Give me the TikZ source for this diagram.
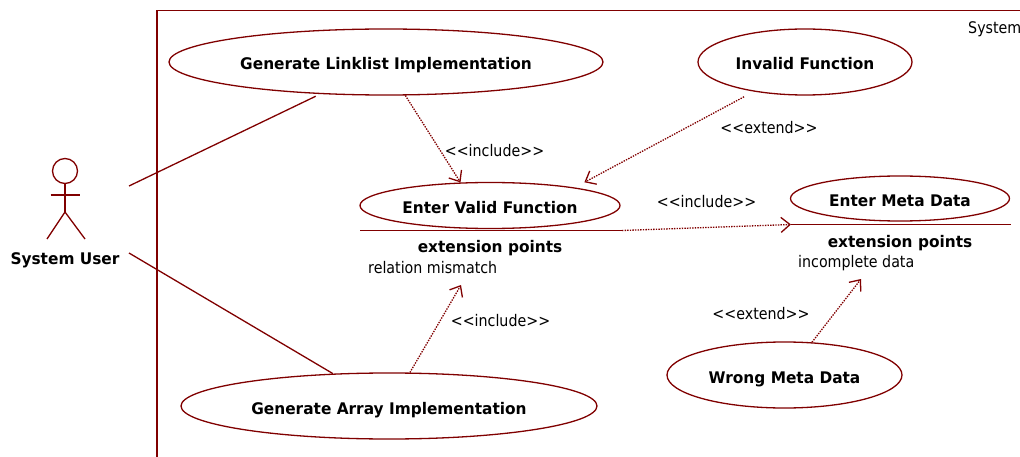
\documentclass[tikz,border=0pt]{standalone}
\usepackage{fontspec}
\setmainfont[FakeStretch=0.89,BoldFeatures={FakeStretch=0.96}]{DejaVu Sans}
\usepackage{tikz}
\usetikzlibrary{positioning,arrows.meta,shapes.geometric}
\definecolor{umlred}{RGB}{128,0,0}
\tikzstyle{usecase}=[draw=umlred, ellipse, line width=1.3pt, inner sep=0pt, text height=16pt, text depth=0pt, font=\fontsize{16pt}{18pt}\selectfont\bfseries]
\tikzstyle{label}=[inner sep=0pt, font=\fontsize{16pt}{18pt}\selectfont]
\tikzstyle{heading}=[inner sep=0pt, font=\fontsize{16pt}{18pt}\selectfont\bfseries]
\tikzstyle{assoc}=[draw=umlred, line width=1.3pt]
\tikzstyle{depend}=[draw=umlred, line width=1.3pt, dash pattern=on 1.4pt off 1.2pt, -{Straight Barb[length=9pt,width=15pt,line width=1.3pt]}]

\begin{document}
\begin{tikzpicture}[x=1pt,y=1pt,node distance=100pt]
	\useasboundingbox (0,0) rectangle (1020,-457);
	% system frame
	\coordinate (frameBottom) at (157,-460);
	\coordinate (frameCorner) at (157,-10.5);
	\coordinate (frameRight) at (1025,-10.5);
	\draw[assoc] (frameBottom) -- (frameCorner) -- (frameRight);
	\node[label, anchor=west] (system) at (968,-29) {System};
	% actor
	\node[draw=umlred, circle, line width=1.3pt, inner sep=0pt, minimum size=25pt] (head) at (65,-171) {};
	\coordinate[below of=head, node distance=41pt] (hip);
	\coordinate[below of=head, node distance=24pt] (armMid);
	\coordinate[left of=armMid, node distance=14.5pt] (armLeft);
	\coordinate[right of=armMid, node distance=14.5pt] (armRight);
	\coordinate (legLeft) at (47,-239);
	\coordinate (legRight) at (85,-239);
	\draw[assoc] (head) ++(0,-12.5) -- (hip);
	\draw[assoc] (armLeft) -- (armRight);
	\draw[assoc] (legLeft) -- (hip) -- (legRight);
	\node[heading, below of=head, node distance=89pt] (user) {System User};
	\coordinate (userTop) at (129,-186);
	\coordinate (userBottom) at (129,-253);
	% use cases
	\node[usecase, minimum width=434pt, minimum height=66pt] (linklist) at (386,-62) {Generate Linklist Implementation};
	\node[usecase, right of=linklist, node distance=419pt, minimum width=214pt, minimum height=66pt] (invalid) {Invalid Function};
	\node[usecase, minimum width=260pt, minimum height=46pt] (valid) at (490,-205.5) {Enter Valid Function};
	\node[heading, below of=valid, node distance=43pt] (validExt) {extension points};
	\node[label, anchor=west] (mismatch) at (368,-267.5) {relation mismatch};
	\node[usecase, right of=valid, node distance=410pt, yshift=7pt, minimum width=219pt, minimum height=45pt] (meta) {Enter Meta Data};
	\node[heading, below of=meta, node distance=44.5pt] (metaExt) {extension points};
	\node[label, anchor=west] (incomplete) at (798,-263) {incomplete data};
	\node[usecase, minimum width=235pt, minimum height=66pt] (wrong) at (784.5,-375) {Wrong Meta Data};
	\node[usecase, minimum width=416pt, minimum height=66pt] (array) at (389,-406) {Generate Array Implementation};
	% compartment lines
	\coordinate (validLineLeft) at (360,-230.5);
	\coordinate (validLineRight) at (622,-230.5);
	\coordinate (metaLineLeft) at (791,-224.5);
	\coordinate (metaLineRight) at (1011,-224.5);
	\draw[assoc] (validLineLeft) -- (validLineRight);
	\draw[assoc] (metaLineLeft) -- (metaLineRight);
	\coordinate (validIn) at (461,-285);
	\coordinate (metaIn) at (861,-279);
	% relations
	\path (userTop) edge[assoc, shorten >=5pt] (linklist.206);
	\path (userBottom) edge[assoc] (array.150);
	\path (linklist.300) edge[depend] (valid.142);
	\path (invalid.210) edge[depend, shorten <=11pt, shorten >=11pt] (valid.12);
	\path (validLineRight) edge[depend] (metaLineLeft);
	\path (array.58) edge[depend] (validIn);
	\path (wrong.50) edge[depend] (metaIn);
	% stereotypes
	\node[label] (incl1) at (494.5,-150.5) {{<}{<}include{>}{>}};
	\node[label] (ext1) at (769,-127.5) {{<}{<}extend{>}{>}};
	\node[label] (incl2) at (706.5,-201.5) {{<}{<}include{>}{>}};
	\node[label] (incl3) at (500.5,-320.5) {{<}{<}include{>}{>}};
	\node[label] (ext2) at (761,-313.5) {{<}{<}extend{>}{>}};
\end{tikzpicture}
\end{document}
